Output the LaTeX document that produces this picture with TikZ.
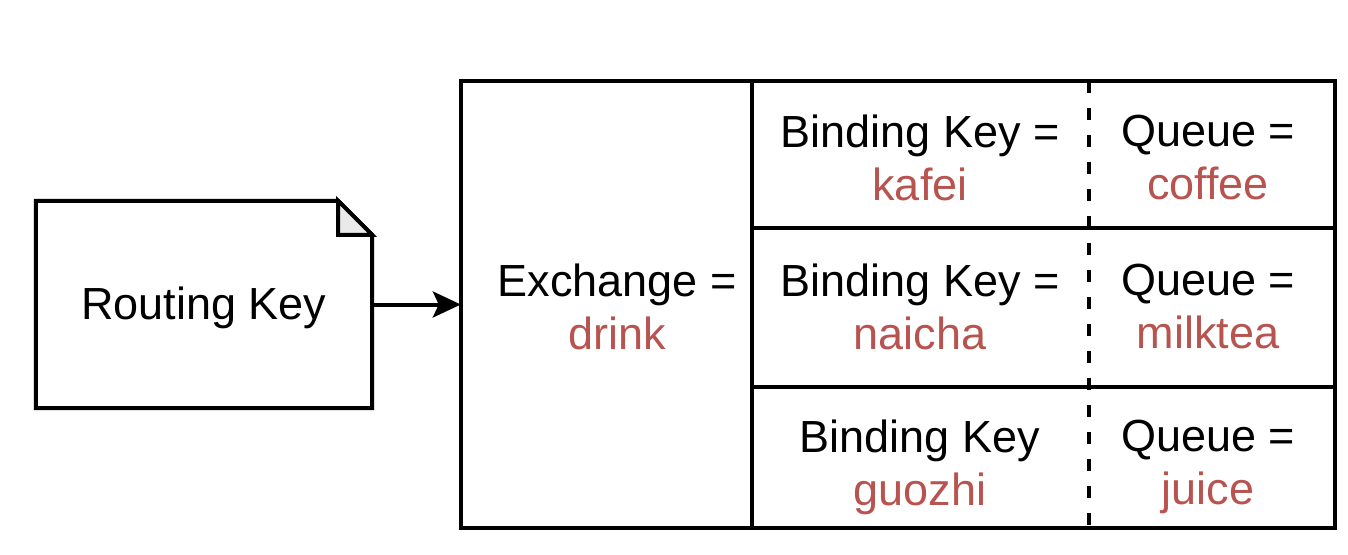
\documentclass[tikz,border=0pt]{standalone}
\usepackage{fontspec}
\setmainfont{Liberation Sans}
\usetikzlibrary{arrows.meta}
\definecolor{keyred}{RGB}{184,84,80}
\definecolor{foldgray}{RGB}{234,234,234}
\tikzset{
  line/.style={line width=4pt, draw=black},
  lbl/.style={align=center, font=\fontsize{45}{53}\selectfont, inner sep=0pt},
  cell/.style={draw=none, inner sep=0pt},
}
\newcommand{\rv}[1]{\textcolor{keyred}{#1}}
\begin{document}
\begin{tikzpicture}[x=1pt, y=-1pt]
\useasboundingbox (0,0) rectangle (1348,554);
% Routing key document
\node[cell, minimum width=336pt, minimum height=207pt] (rk) at (204,304.5) {};
\draw[line, fill=white, line join=miter]
  (rk.north west) -- ([xshift=-34pt]rk.north east) -- ([yshift=-34pt]rk.north east)
  -- (rk.south east) -- (rk.south west) -- cycle;
\draw[line, fill=foldgray, line join=miter]
  ([xshift=-34pt]rk.north east) -- ([xshift=-34pt,yshift=-34pt]rk.north east)
  -- ([yshift=-34pt]rk.north east) -- cycle;
\node[lbl] (rkt) at ([yshift=-3pt]rk.center) {Routing Key};
% table frame
\node[cell, minimum width=874pt, minimum height=447pt] (ex) at (898,304.5) {};
\coordinate (c1top) at (752,81);
\coordinate (c1bot) at (752,528);
\coordinate (c2top) at (1089,81);
\coordinate (c2bot) at (1089,528);
\coordinate (r1l) at (752,228);
\coordinate (r1r) at (1335,228);
\coordinate (r2l) at (752,387);
\coordinate (r2r) at (1335,387);
\draw[line, line width=4.5pt] (ex.north west) rectangle (ex.south east);
\draw[line] (c1top) -- (c1bot);
\draw[line] (r1l) -- (r1r);
\draw[line] (r2l) -- (r2r);
\draw[line, dash pattern=on 12pt off 15pt] (c2top) -- (c2bot);
% arrow
\draw[line, -{Stealth[length=28pt, width=26pt, inset=6pt]}] (rk.east) -- (ex.west);
% texts
\node[lbl] (exch) at (617,307) {Exchange =\\\rv{drink}};
\node[lbl] (b1) at (920,158) {Binding Key =\\\rv{kafei}};
\node[lbl] (q1) at (1208,158) {Queue =\\\rv{coffee}};
\node[lbl] (b2) at (920,307) {Binding Key =\\\rv{naicha}};
\node[lbl] (q2) at (1208,307) {Queue =\\\rv{milktea}};
\node[lbl] (b3) at (920,467) {Binding Key\\\rv{guozhi}};
\node[lbl] (q3) at (1208,467) {Queue =\\\rv{juice}};
\end{tikzpicture}
\end{document}
